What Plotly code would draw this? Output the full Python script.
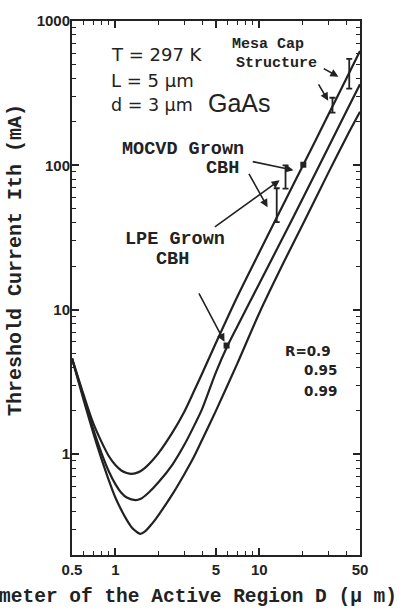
import plotly.graph_objects as go
import math

# ---------------- data ----------------
D_top = [0.5, 0.6, 0.7, 0.8, 0.9, 1.0, 1.1, 1.2, 1.3, 1.45, 1.6, 1.8, 2.0, 2.5, 3.0, 3.5, 4.0, 5.0, 7.0, 10, 15, 20, 30, 40, 50]
I_top = [4.6, 2.6, 1.65, 1.22, 0.97, 0.84, 0.77, 0.74, 0.73, 0.75, 0.80, 0.90, 1.02, 1.42, 1.95, 2.7, 3.6, 5.9, 12.2, 25, 56, 99, 222, 395, 620]

D_mid = [0.5, 0.6, 0.7, 0.8, 0.9, 1.0, 1.1, 1.2, 1.38, 1.5, 1.7, 2.0, 2.5, 3.0, 3.5, 4.0, 5.0, 6.0, 7.0, 10, 15, 20, 30, 40, 50]
I_mid = [4.6, 2.5, 1.5, 1.02, 0.76, 0.62, 0.54, 0.50, 0.48, 0.49, 0.54, 0.64, 0.85, 1.15, 1.55, 2.05, 3.7, 5.6, 7.6, 15.2, 33.5, 59, 132, 234, 365]

D_bot = [0.5, 0.6, 0.7, 0.8, 0.9, 1.0, 1.1, 1.2, 1.3, 1.4, 1.49, 1.6, 1.8, 2.0, 2.5, 3.0, 3.5, 4.0, 5.0, 7.0, 10, 15, 20, 30, 40, 50]
I_bot = [4.6, 2.4, 1.42, 0.93, 0.66, 0.50, 0.41, 0.35, 0.31, 0.29, 0.28, 0.29, 0.33, 0.38, 0.53, 0.72, 0.95, 1.25, 2.0, 4.2, 9.5, 22, 39, 88, 155, 235]

# measured points (dots)
dot_D = [20.2, 5.92]
dot_I = [101, 5.65]

# measured ranges (error-bar style "I" marks)
bar_D = [42.1, 32.2, 15.2, 13.2]
bar_lo = [340, 232, 69, 40.4]
bar_hi = [547, 294, 100, 69.4]

x_tickvals = [0.5, 1, 5, 10, 50]
x_ticktext = ["0.5", "1", "5", "10", "50"]
x_minor = [0.6, 0.7, 0.8, 0.9, 2, 3, 4, 6, 7, 8, 9, 20, 30, 40]
y_tickvals = [1, 10, 100, 1000]
y_ticktext = ["1", "10", "100", "1000"]
y_minor = [m * d for d in [0.1, 1, 10, 100] for m in range(2, 10) if 0.2 <= m * d < 1000]

INK = "#222222"
MONO = "Liberation Mono"
SANS = "Liberation Sans"
WIDE = "DejaVu Sans"

fig = go.Figure()
for D, I in [(D_top, I_top), (D_mid, I_mid), (D_bot, I_bot)]:
    fig.add_trace(go.Scatter(x=D, y=I, mode="lines",
                             line=dict(color=INK, width=2.2, shape="spline", smoothing=0.8),
                             hoverinfo="skip", showlegend=False))

# error-bar marks
bar_c = [math.sqrt(a * b) for a, b in zip(bar_lo, bar_hi)]
fig.add_trace(go.Scatter(
    x=bar_D, y=bar_c, mode="markers", marker=dict(size=1, color=INK),
    error_y=dict(type="data", symmetric=False,
                 array=[h - c for h, c in zip(bar_hi, bar_c)],
                 arrayminus=[c - l for l, c in zip(bar_lo, bar_c)],
                 color=INK, thickness=1.8, width=3),
    showlegend=False, hoverinfo="skip"))

fig.add_trace(go.Scatter(x=dot_D, y=dot_I, mode="markers",
                         marker=dict(size=6, color=INK, symbol="square"),
                         showlegend=False, hoverinfo="skip"))

# ---------------- layout ----------------
L, R, T, B = 72, 45, 19, 56
W, H = 405, 611
PW, PH = W - L - R, H - T - B


def px(x):
    return (x - L) / PW


def py(y):
    return (H - B - y) / PH


axis_common = dict(type="log", showline=True, linecolor=INK, linewidth=2, mirror="ticks",
                   ticks="inside", ticklen=7, tickwidth=1.6, tickcolor=INK,
                   showgrid=False, zeroline=False,
                   tickfont=dict(family=SANS, size=15, color=INK, weight="bold"))

fig.update_layout(
    width=W, height=H,
    margin=dict(l=L, r=R, t=T, b=B),
    paper_bgcolor="white", plot_bgcolor="white",
    xaxis=dict(range=[math.log10(0.5), math.log10(50)], tickmode="array",
               tickvals=x_tickvals, ticktext=x_ticktext,
               minor=dict(tickmode="array", tickvals=x_minor, ticks="inside",
                          ticklen=4, tickwidth=1.3, tickcolor=INK, showgrid=False),
               **axis_common),
    yaxis=dict(range=[math.log10(0.2), 3], tickmode="array",
               tickvals=y_tickvals, ticktext=y_ticktext, ticklabelstandoff=-3,
               minor=dict(tickmode="array", tickvals=y_minor, ticks="inside",
                          ticklen=4, tickwidth=1.3, tickcolor=INK, showgrid=False),
               **axis_common),
)

ann = []


def text(s, x, y, size, family, xanchor="left", bold=False, angle=0):
    ann.append(dict(text=s, xref="paper", yref="paper", x=px(x), y=py(y),
                    xanchor=xanchor, yanchor="middle", showarrow=False, textangle=angle,
                    font=dict(family=family, size=size, color=INK,
                              weight="bold" if bold else "normal")))


text("T = 297 K", 109, 53, 18, WIDE)
text("L = 5 μm", 109, 79, 18, WIDE)
text("d = 3 μm", 109, 103, 17.5, WIDE)
text("GaAs", 206, 101, 25, SANS)
text("Mesa Cap", 268, 43, 15, MONO, "center", True)
text("Structure", 276, 62, 15, MONO, "center", True)
text("MOCVD Grown", 120, 148, 18.5, MONO, "left", True)
text("CBH", 222, 167, 18.5, MONO, "center", True)
text("LPE Grown", 123, 238, 18.5, MONO, "left", True)
text("CBH", 172, 258, 18.5, MONO, "center", True)
text("R=0.9", 283, 350, 13.5, WIDE, "left", True)
text("0.95", 302, 369, 13.5, WIDE, "left", True)
text("0.99", 302, 390, 13.5, WIDE, "left", True)
text("Diameter of the Active Region D (μ m)", 399, 597, 19.5, MONO, "right", True)
text("Threshold Current Ith (mA)", 15, 259, 20, MONO, "center", True, -90)

# arrows (tail -> head) in log10 data coordinates
arrows = [
    ((0.944, 2.028), (1.237, 1.966)),
    ((0.922, 1.952), (1.057, 1.710)),
    ((0.681, 1.566), (1.141, 1.897)),
    ((0.575, 1.124), (0.758, 0.779)),
    ((1.437, 2.676), (1.549, 2.614)),
    ((1.405, 2.572), (1.478, 2.448)),
]
for (tx, ty), (hx, hy) in arrows:
    ann.append(dict(x=hx, y=hy, xref="x", yref="y", ax=tx, ay=ty, axref="x", ayref="y",
                    showarrow=True, arrowhead=2, arrowsize=1, arrowwidth=1.6,
                    arrowcolor=INK, text=""))

fig.update_layout(annotations=ann)
fig.write_html("out.html", config={"displayModeBar": False},
               post_script="document.body.style.margin='0px';document.body.style.overflow='hidden';")
